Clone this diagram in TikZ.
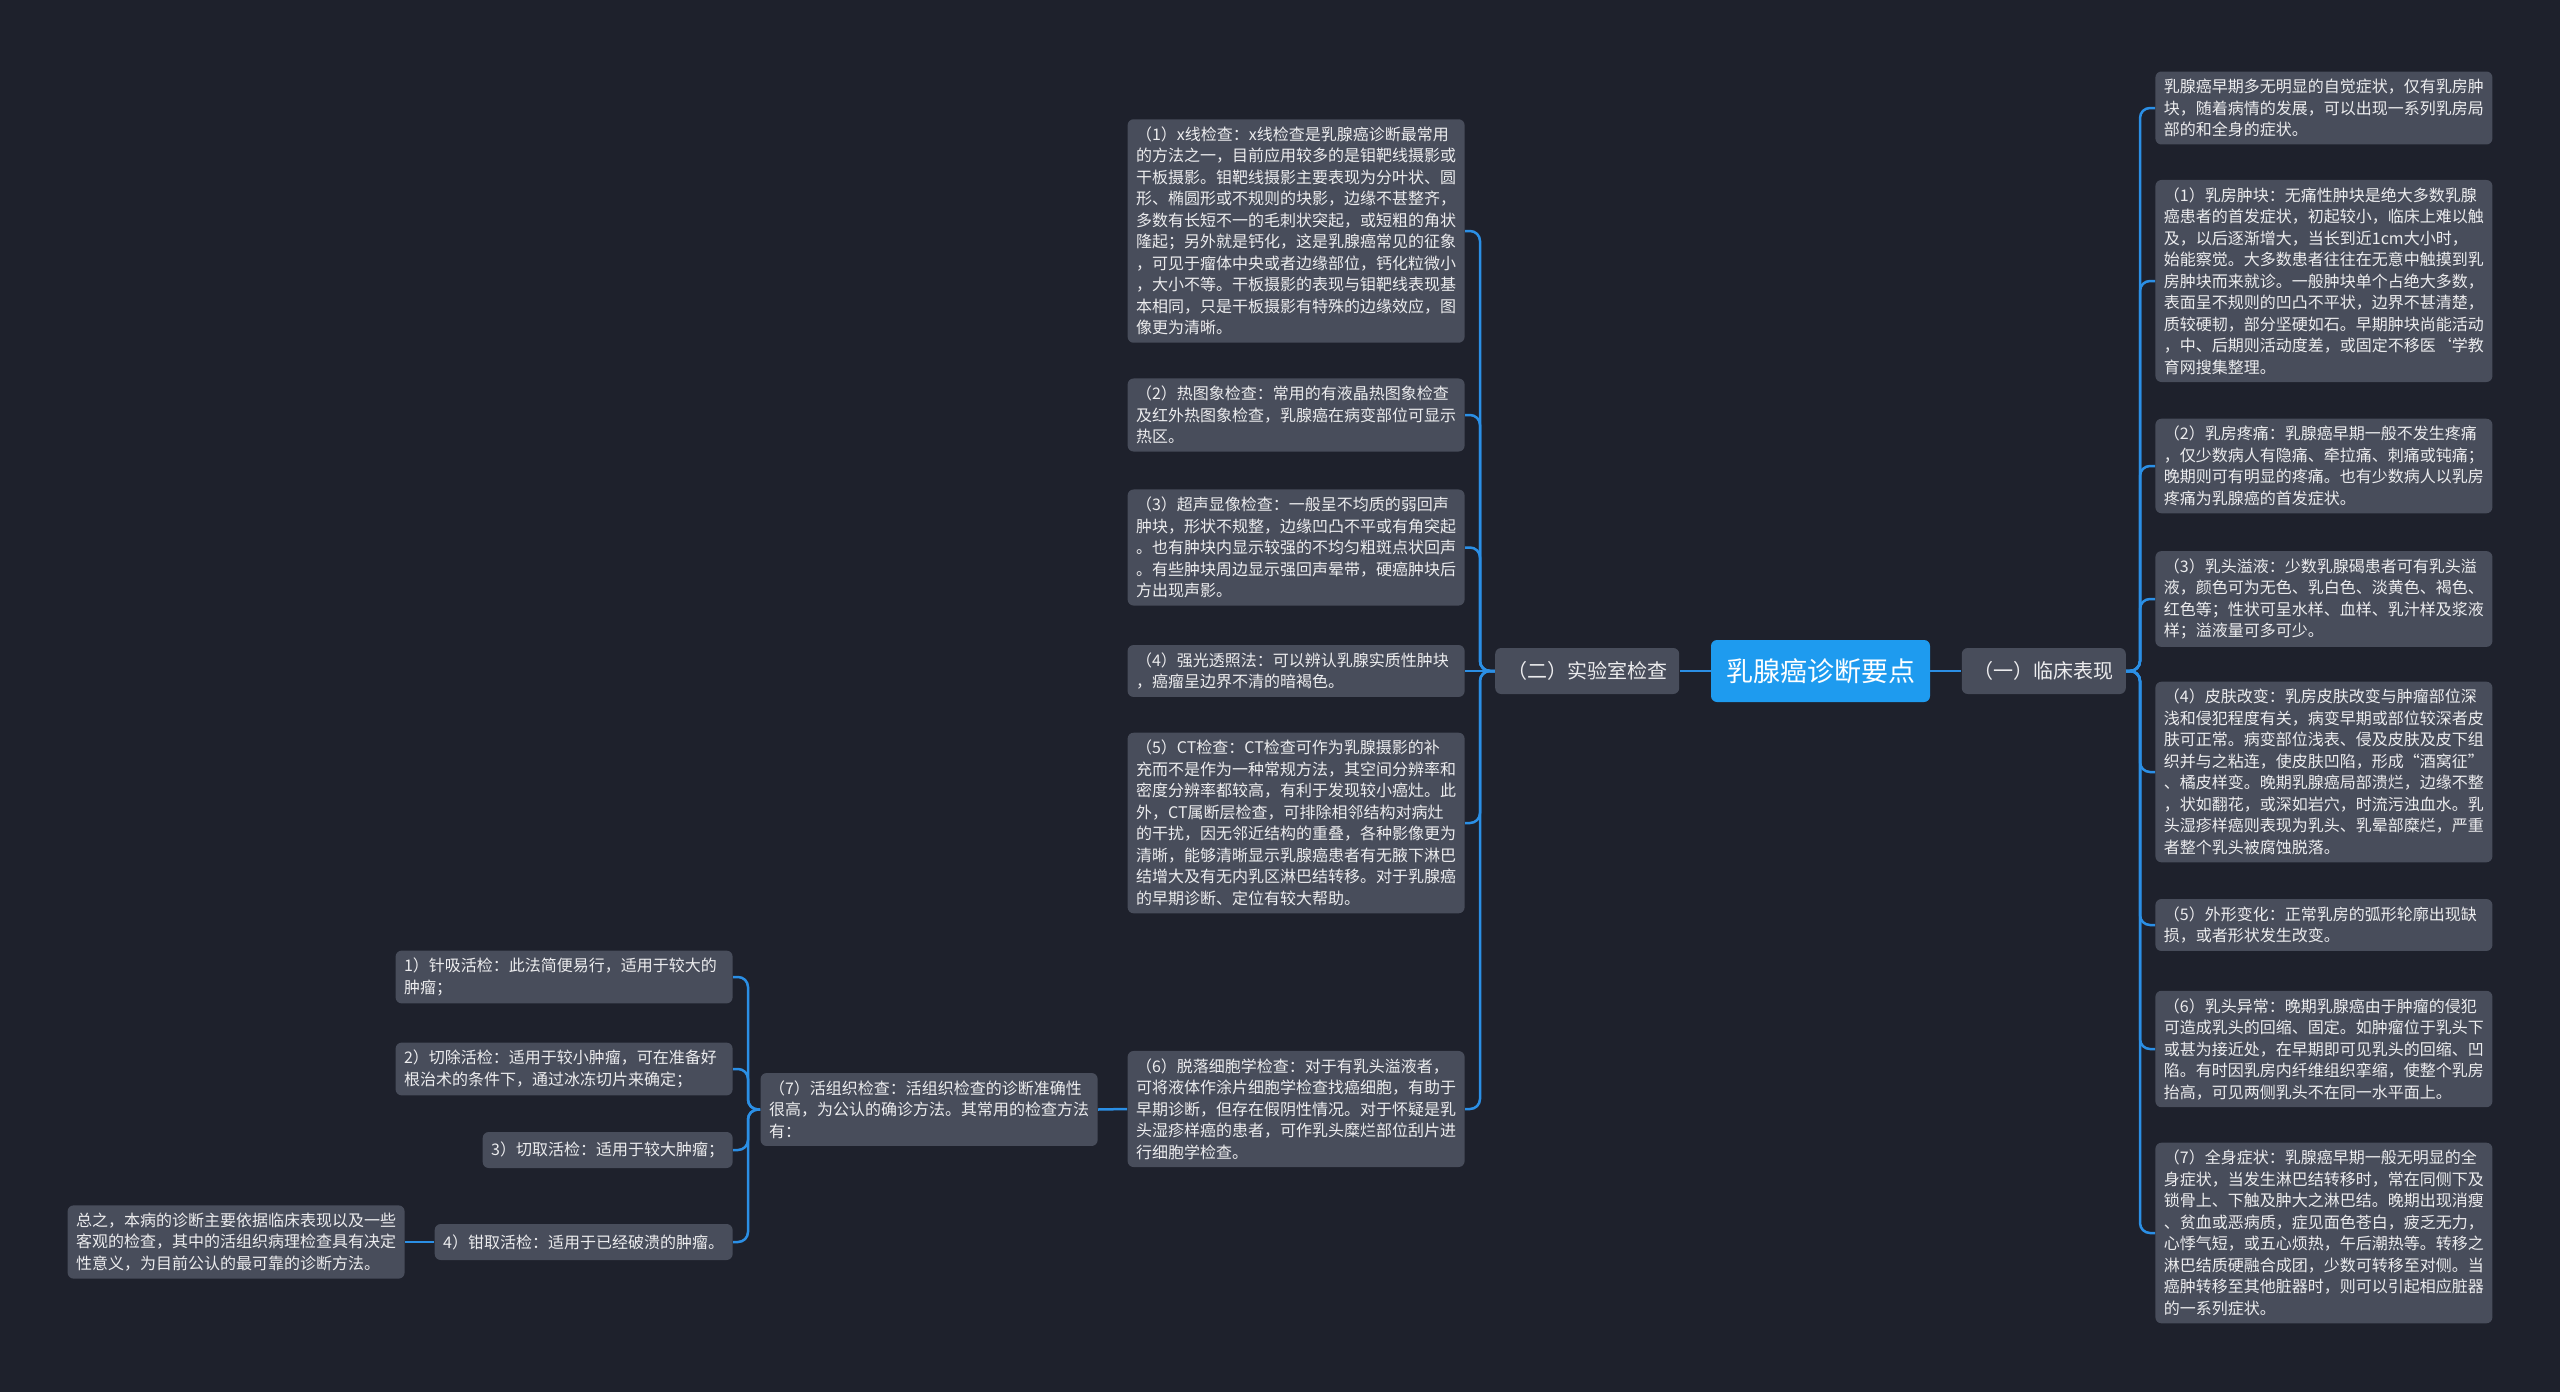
\documentclass[tikz,border=0pt]{standalone}
\usepackage{fontspec}
\setmainfont{Noto Sans CJK SC}
\usetikzlibrary{positioning}

\definecolor{bgdark}{HTML}{1E212C}
\definecolor{boxgray}{HTML}{484D5B}
\definecolor{rootblue}{HTML}{1E9BEF}
\definecolor{linkblue}{HTML}{2B8FE5}
\definecolor{textlight}{HTML}{ECECEE}

\begin{document}
\begin{tikzpicture}[x=0.5pt,y=-0.5pt]
\tikzset{
  root/.style={rectangle,rounded corners=3pt,fill=rootblue,text=white,font=\fontsize{13.5pt}{16pt}\selectfont,minimum width=109.5pt,minimum height=31pt,inner sep=0pt},
  topic/.style={rectangle,rounded corners=3pt,fill=boxgray,text=textlight,font=\fontsize{10pt}{12pt}\selectfont,minimum height=23pt,inner xsep=6pt,inner ysep=0pt},
  note/.style={rectangle,rounded corners=3pt,fill=boxgray,text=textlight,font=\fontsize{8pt}{10.75pt}\selectfont,text width=160pt,align=left,inner xsep=4.25pt,inner ysep=3.75pt,minimum height=18pt},
  leaf/.style={rectangle,rounded corners=3pt,fill=boxgray,text=textlight,font=\fontsize{8pt}{10.75pt}\selectfont,inner xsep=4.25pt,inner ysep=0pt,minimum height=18pt},
  link/.style={draw=linkblue,line width=1.25pt,rounded corners=5pt},
}
\fill[bgdark] (0,0) rectangle (2560,1392);
%
\node[root] (root) at (1820.5,671) {乳腺癌诊断要点};
\node[topic,right=15.5pt of root] (clinic) {（一）临床表现};
\node[topic,left=15.5pt of root] (lab) {（二）实验室检查};
%
\node[note,anchor=west] (sym0) at (2155,108) {乳腺癌早期多无明显的自觉症状，仅有乳房肿\\块，随着病情的发展，可以出现一系列乳房局\\部的和全身的症状。};
\node[note,anchor=west] (sym1) at (2155,281) {（1）乳房肿块：无痛性肿块是绝大多数乳腺\\癌患者的首发症状，初起较小，临床上难以触\\及，以后逐渐增大，当长到近1cm大小时，\\始能察觉。大多数患者往往在无意中触摸到乳\\房肿块而来就诊。一般肿块单个占绝大多数，\\表面呈不规则的凹凸不平状，边界不甚清楚，\\质较硬韧，部分坚硬如石。早期肿块尚能活动\\，中、后期则活动度差，或固定不移医`学教\\育网搜集整理。};
\node[note,anchor=west] (sym2) at (2155,466) {（2）乳房疼痛：乳腺癌早期一般不发生疼痛\\，仅少数病人有隐痛、牵拉痛、刺痛或钝痛；\\晚期则可有明显的疼痛。也有少数病人以乳房\\疼痛为乳腺癌的首发症状。};
\node[note,anchor=west] (sym3) at (2155,599) {（3）乳头溢液：少数乳腺碣患者可有乳头溢\\液，颜色可为无色、乳白色、淡黄色、褐色、\\红色等；性状可呈水样、血样、乳汁样及浆液\\样；溢液量可多可少。};
\node[note,anchor=west] (sym4) at (2155,772) {（4）皮肤改变：乳房皮肤改变与肿瘤部位深\\浅和侵犯程度有关，病变早期或部位较深者皮\\肤可正常。病变部位浅表、侵及皮肤及皮下组\\织并与之粘连，使皮肤凹陷，形成“酒窝征”\\、橘皮样变。晚期乳腺癌局部溃烂，边缘不整\\，状如翻花，或深如岩穴，时流污浊血水。乳\\头湿疹样癌则表现为乳头、乳晕部糜烂，严重\\者整个乳头被腐蚀脱落。};
\node[note,anchor=west] (sym5) at (2155,925) {（5）外形变化：正常乳房的弧形轮廓出现缺\\损，或者形状发生改变。};
\node[note,anchor=west] (sym6) at (2155,1049) {（6）乳头异常：晚期乳腺癌由于肿瘤的侵犯\\可造成乳头的回缩、固定。如肿瘤位于乳头下\\或甚为接近处，在早期即可见乳头的回缩、凹\\陷。有时因乳房内纤维组织挛缩，使整个乳房\\抬高，可见两侧乳头不在同一水平面上。};
\node[note,anchor=west] (sym7) at (2155,1233) {（7）全身症状：乳腺癌早期一般无明显的全\\身症状，当发生淋巴结转移时，常在同侧下及\\锁骨上、下触及肿大之淋巴结。晚期出现消瘦\\、贫血或恶病质，症见面色苍白，疲乏无力，\\心悸气短，或五心烦热，午后潮热等。转移之\\淋巴结质硬融合成团，少数可转移至对侧。当\\癌肿转移至其他脏器时，则可以引起相应脏器\\的一系列症状。};
%
\node[note,anchor=east] (exam1) at (1465,231) {（1）x线检查：x线检查是乳腺癌诊断最常用\\的方法之一，目前应用较多的是钼靶线摄影或\\干板摄影。钼靶线摄影主要表现为分叶状、圆\\形、椭圆形或不规则的块影，边缘不甚整齐，\\多数有长短不一的毛刺状突起，或短粗的角状\\隆起；另外就是钙化，这是乳腺癌常见的征象\\，可见于瘤体中央或者边缘部位，钙化粒微小\\，大小不等。干板摄影的表现与钼靶线表现基\\本相同，只是干板摄影有特殊的边缘效应，图\\像更为清晰。};
\node[note,anchor=east] (exam2) at (1465,415) {（2）热图象检查：常用的有液晶热图象检查\\及红外热图象检查，乳腺癌在病变部位可显示\\热区。};
\node[note,anchor=east] (exam3) at (1465,547.5) {（3）超声显像检查：一般呈不均质的弱回声\\肿块，形状不规整，边缘凹凸不平或有角突起\\。也有肿块内显示较强的不均匀粗斑点状回声\\。有些肿块周边显示强回声晕带，硬癌肿块后\\方出现声影。};
\node[note,anchor=east] (exam4) at (1465,671) {（4）强光透照法：可以辨认乳腺实质性肿块\\，癌瘤呈边界不清的暗褐色。};
\node[note,anchor=east] (exam5) at (1465,823) {（5）CT检查：CT检查可作为乳腺摄影的补\\充而不是作为一种常规方法，其空间分辨率和\\密度分辨率都较高，有利于发现较小癌灶。此\\外，CT属断层检查，可排除相邻结构对病灶\\的干扰，因无邻近结构的重叠，各种影像更为\\清晰，能够清晰显示乳腺癌患者有无腋下淋巴\\结增大及有无内乳区淋巴结转移。对于乳腺癌\\的早期诊断、定位有较大帮助。};
\node[note,anchor=east] (exam6) at (1465,1109) {（6）脱落细胞学检查：对于有乳头溢液者，\\可将液体作涂片细胞学检查找癌细胞，有助于\\早期诊断，但存在假阴性情况。对于怀疑是乳\\头湿疹样癌的患者，可作乳头糜烂部位刮片进\\行细胞学检查。};
%
\node[note,anchor=east] (biopsy) at (1098,1109.5) {（7）活组织检查：活组织检查的诊断准确性\\很高，为公认的确诊方法。其常用的检查方法\\有：};
\node[note,anchor=east] (bio1) at (733,977) {1）针吸活检：此法简便易行，适用于较大的\\肿瘤；};
\node[note,anchor=east] (bio2) at (733,1069) {2）切除活检：适用于较小肿瘤，可在准备好\\根治术的条件下，通过冰冻切片来确定；};
\node[leaf,anchor=east] (bio3) at (733,1150) {3）切取活检：适用于较大肿瘤；};
\node[leaf,anchor=east] (bio4) at (733,1242) {4）钳取活检：适用于已经破溃的肿瘤。};
\node[note,anchor=east] (summary) at (405,1242) {总之，本病的诊断主要依据临床表现以及一些\\客观的检查，其中的活组织病理检查具有决定\\性意义，为目前公认的最可靠的诊断方法。};
%
\coordinate (rbus) at (2140,671);
\coordinate (mbus) at (1480,671);
\coordinate (bbus) at (748,1109.5);
%
\path[link] (root) -- (clinic);
\path[link] (root) -- (lab);
\path[link] (clinic.east) -- (rbus) |- (sym0.west);
\path[link] (clinic.east) -- (rbus) |- (sym1.west);
\path[link] (clinic.east) -- (rbus) |- (sym2.west);
\path[link] (clinic.east) -- (rbus) |- (sym3.west);
\path[link] (clinic.east) -- (rbus) |- (sym4.west);
\path[link] (clinic.east) -- (rbus) |- (sym5.west);
\path[link] (clinic.east) -- (rbus) |- (sym6.west);
\path[link] (clinic.east) -- (rbus) |- (sym7.west);
\path[link] (lab.west) -- (mbus) |- (exam1.east);
\path[link] (lab.west) -- (mbus) |- (exam2.east);
\path[link] (lab.west) -- (mbus) |- (exam3.east);
\path[link] (lab.west) -- (exam4.east);
\path[link] (lab.west) -- (mbus) |- (exam5.east);
\path[link] (lab.west) -- (mbus) |- (exam6.east);
\path[link] (exam6.west) -- (biopsy.east);
\path[link] (biopsy.west) -- (bbus) |- (bio1.east);
\path[link] (biopsy.west) -- (bbus) |- (bio2.east);
\path[link] (biopsy.west) -- (bbus) |- (bio3.east);
\path[link] (biopsy.west) -- (bbus) |- (bio4.east);
\path[link] (bio4.west) -- (summary.east);
\end{tikzpicture}
\end{document}
